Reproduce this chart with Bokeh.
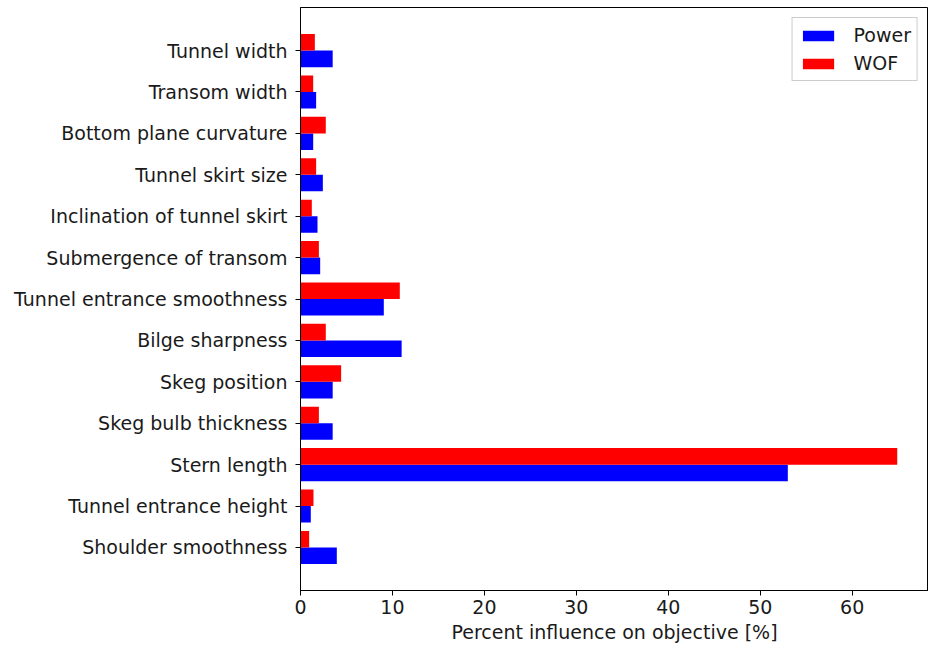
from bokeh.plotting import figure
from bokeh.models import Range1d, FixedTicker, Legend, LegendItem, ColumnDataSource
from bokeh.embed import file_html
from bokeh.resources import INLINE

categories = ["Shoulder smoothness", "Tunnel entrance height", "Stern length",
              "Skeg bulb thickness", "Skeg position", "Bilge sharpness",
              "Tunnel entrance smoothness", "Submergence of transom",
              "Inclination of tunnel skirt", "Tunnel skirt size",
              "Bottom plane curvature", "Transom width", "Tunnel width"]
power = [3.95, 1.12, 53.0, 3.5, 3.5, 11.0, 9.06, 2.14, 1.85, 2.43, 1.38, 1.7, 3.5]
wof = [0.94, 1.41, 64.9, 2.0, 4.42, 2.75, 10.8, 2.0, 1.23, 1.7, 2.75, 1.38, 1.56]
x_ticks = [0, 10, 20, 30, 40, 50, 60]

FONT = "DejaVu Sans"
FS = "19px"
TXT = "#1a1a1a"
idx = list(range(len(categories)))

p = figure(width=928, height=645, output_backend="svg", toolbar_location=None,
           x_range=Range1d(0, 68.3), y_range=Range1d(-1.04, 13.04),
           min_border_left=300, min_border_right=0, min_border_top=7, min_border_bottom=10)
p.frame_width = 628
p.frame_height = 583

src_p = ColumnDataSource(dict(y=[i - 0.2 for i in idx], v=power))
src_w = ColumnDataSource(dict(y=[i + 0.2 for i in idx], v=wof))
rp = p.hbar(y="y", right="v", left=0, height=0.4, source=src_p, fill_color="#0000ff", line_color=None)
rw = p.hbar(y="y", right="v", left=0, height=0.4, source=src_w, fill_color="#ff0000", line_color=None)

p.grid.visible = False
p.outline_line_color = "black"
p.outline_line_width = 1

p.yaxis.ticker = FixedTicker(ticks=idx)
p.yaxis.major_label_overrides = {i: c for i, c in zip(idx, categories)}
p.xaxis.ticker = FixedTicker(ticks=x_ticks)
p.xaxis.axis_label = "Percent influence on objective [%]"
for ax in (p.xaxis, p.yaxis):
    ax.major_label_text_font = FONT
    ax.major_label_text_font_size = FS
    ax.major_label_text_color = TXT
    ax.axis_label_text_font = FONT
    ax.axis_label_text_font_size = FS
    ax.axis_label_text_font_style = "normal"
    ax.axis_label_text_color = TXT
    ax.axis_line_color = "black"
    ax.major_tick_line_color = "black"
    ax.major_tick_out = 5
    ax.major_tick_in = 0
    ax.minor_tick_line_color = None
p.xaxis.major_label_standoff = 4
p.yaxis.major_label_standoff = 8
p.xaxis.axis_label_standoff = 4

legend = Legend(items=[LegendItem(label="Power", renderers=[rp]),
                       LegendItem(label="WOF", renderers=[rw])],
                location="top_right", label_text_font=FONT, label_text_font_size=FS,
                label_text_color=TXT,
                border_line_color="#cccccc", border_line_alpha=1.0,
                glyph_width=39, glyph_height=13, spacing=6, padding=6,
                margin=10, label_standoff=16)
p.add_layout(legend)

open("out.html", "w").write(file_html(p, INLINE))
